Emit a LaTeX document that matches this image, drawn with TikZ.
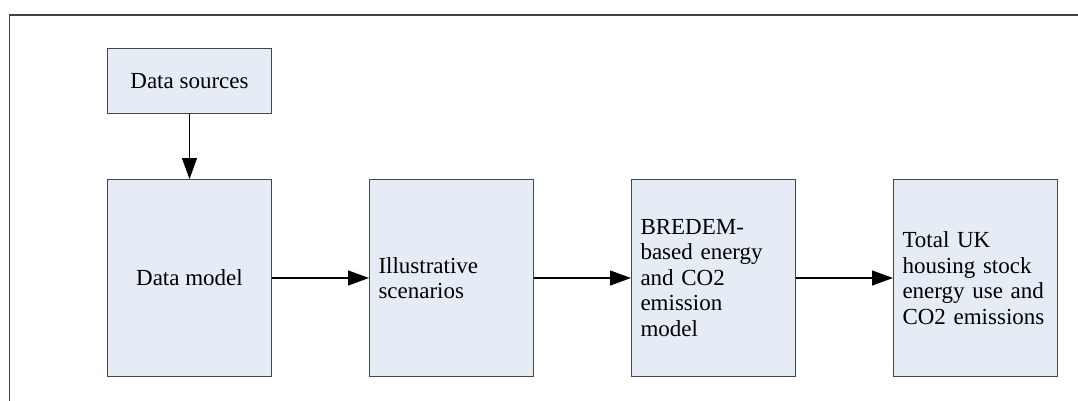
\documentclass[tikz,border=0pt]{standalone}
\usepackage{fontspec}
\setmainfont{Liberation Serif}
\usetikzlibrary{arrows.meta}
\definecolor{boxfill}{RGB}{230,236,246}
\definecolor{boxline}{RGB}{70,70,70}
\begin{document}
\begin{tikzpicture}[x=1pt,y=-1pt,
  stagebox/.style={draw=boxline, line width=1pt, fill=boxfill,
    minimum width=164pt, minimum height=197pt, anchor=north west,
    inner xsep=9pt, inner ysep=0pt,
    font=\fontsize{23}{25.5}\selectfont},
  textbox/.style={stagebox, text width=146pt, align=left},
  flow/.style={line width=1.3pt, -{Triangle[length=21pt,width=15pt]}}]
  \useasboundingbox (0,0) rectangle (1078,401);
  % frame edges
  \draw[black!75, line width=1.3pt] (9.5,401) -- (9.5,15) -- (1078,15);
  % boxes
  \node[stagebox, minimum height=65pt] (src) at (107,48) {Data sources};
  \node[stagebox] (dm) at (107,179) {Data model};
  \node[textbox] (ill) at (369,179) {Illustrative\\scenarios};
  \node[textbox] (bre) at (631,179) {BREDEM-\\based energy\\and CO2\\emission\\model};
  \node[textbox] (tot) at (893,179) {Total UK\\housing stock\\energy use and\\CO2 emissions};
  % connectors
  \draw[flow] (src) -- (dm);
  \draw[flow] (dm) -- (ill);
  \draw[flow] (ill) -- (bre);
  \draw[flow] (bre) -- (tot);
\end{tikzpicture}
\end{document}
